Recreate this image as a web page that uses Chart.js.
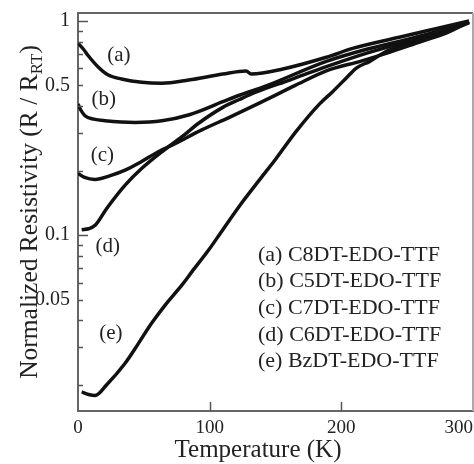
<!DOCTYPE html>
<html>
<head>
<meta charset="utf-8">
<script src="https://cdn.jsdelivr.net/npm/chart.js@4"></script>
<style>
html, body { margin: 0; padding: 0; background: #fff; }
#wrap { width: 474px; height: 464px; }
</style>
</head>
<body>
<div id="wrap"><canvas id="chart"></canvas></div>
<script>
// === Data (T in K, R / R_RT) ===
const tempA = [0, 4, 7.8, 15.5, 23, 33, 48.5, 63.7, 84, 110, 127.7, 131.5, 155.6, 188.6, 208.6, 244, 275, 297];
const resA  = [0.787, 0.74, 0.688, 0.608, 0.559, 0.536, 0.517, 0.512, 0.53, 0.565, 0.584, 0.566, 0.597, 0.677, 0.745, 0.84, 0.93, 1.0];

const tempB = [0, 2, 5.3, 12, 20.6, 43.4, 63.7, 84.5, 110, 122.6, 143, 188.6, 220, 250, 275, 297];
const resB  = [0.41, 0.385, 0.361, 0.348, 0.342, 0.336, 0.342, 0.365, 0.42, 0.45, 0.498, 0.648, 0.74, 0.82, 0.9, 0.99];

const tempC = [0, 5, 13, 24, 35.8, 48, 61, 74, 94, 115, 140, 165, 188.6, 215, 237, 260, 280, 297];
const resC  = [0.194, 0.186, 0.182, 0.189, 0.201, 0.22, 0.245, 0.268, 0.31, 0.355, 0.42, 0.5, 0.585, 0.65, 0.716, 0.8, 0.88, 0.99];

const tempD = [2.8, 8, 13, 21.8, 35.8, 48.5, 63.7, 79, 91.6, 110, 122.6, 135, 160.7, 188.6, 220, 250, 275, 297];
const resD  = [0.106, 0.107, 0.111, 0.133, 0.171, 0.205, 0.245, 0.288, 0.333, 0.395, 0.43, 0.465, 0.53, 0.612, 0.71, 0.8, 0.89, 0.99];

const tempE = [2.8, 8, 13, 21.8, 35.8, 43.4, 56, 66.2, 79, 86.6, 99.2, 110, 125, 137.8, 150.5, 165.7, 183.5, 193.6, 203.8, 211.4, 221.6, 234.3, 247, 267, 285, 297];
const resE  = [0.0185, 0.018, 0.0178, 0.02, 0.0252, 0.0295, 0.0388, 0.0471, 0.0585, 0.0675, 0.0851, 0.106, 0.143, 0.181, 0.228, 0.305, 0.41, 0.469, 0.542, 0.603, 0.648, 0.722, 0.775, 0.848, 0.92, 0.98];

const curveTags = ["(a)", "(b)", "(c)", "(d)", "(e)"];
const tagTemps  = [31, 19.5, 18.5, 22.5, 25];
const tagRes    = [0.688, 0.432, 0.2366, 0.0885, 0.0347];

const legendLines = [
    "(a) C8DT-EDO-TTF",
    "(b) C5DT-EDO-TTF",
    "(c) C7DT-EDO-TTF",
    "(d) C6DT-EDO-TTF",
    "(e) BzDT-EDO-TTF"
];

const xTicks = [0, 100, 200, 300];
const yTicks = [0.02, 0.03, 0.04, 0.05, 0.06, 0.07, 0.08, 0.09,
                0.1, 0.2, 0.3, 0.4, 0.5, 0.6, 0.7, 0.8, 0.9, 1];
const yLabeled = [1, 0.5, 0.1, 0.05];
const yDecades = [1, 0.1];
const xTitle = "Temperature (K)";
const yTitleParts = ["Normalized Resistivity (R / R", "RT", ")"];

// === Styling ===
const serif = "'Liberation Serif', 'Times New Roman', serif";
const ink = "#111";
const axisColor = "#666";

Chart.defaults.font.family = serif;
Chart.defaults.color = "#222";

function toPoints(ts, rs) {
    return ts.map((t, i) => ({ x: t, y: rs[i] }));
}

function curve(label, ts, rs) {
    return {
        label: label,
        data: toPoints(ts, rs),
        borderColor: ink,
        backgroundColor: ink,
        borderWidth: 3.5,
        pointRadius: 0,
        cubicInterpolationMode: "monotone",
        fill: false
    };
}

const decorations = {
    id: "decorations",
    afterDraw(chart) {
        const { ctx, chartArea: a, scales: { x, y } } = chart;
        ctx.save();

        // top and right frame
        ctx.strokeStyle = axisColor;
        ctx.lineWidth = 2;
        ctx.beginPath();
        ctx.moveTo(a.left, a.top);
        ctx.lineTo(a.right, a.top);
        ctx.stroke();
        ctx.strokeStyle = "#aaa";
        ctx.beginPath();
        ctx.moveTo(a.right, a.top);
        ctx.lineTo(a.right, a.bottom);
        ctx.stroke();

        // inward tick marks
        ctx.strokeStyle = "#555";
        ctx.lineWidth = 1.5;
        ctx.beginPath();
        y.ticks.forEach(t => {
            const py = Math.round(y.getPixelForValue(t.value)) + 0.5;
            const len = yDecades.includes(t.value) ? 10 : 5;
            ctx.moveTo(a.left, py);
            ctx.lineTo(a.left + len, py);
        });
        x.ticks.forEach(t => {
            if (t.value <= x.min || t.value >= x.max) return;
            const px = Math.round(x.getPixelForValue(t.value)) + 0.5;
            ctx.moveTo(px, a.bottom);
            ctx.lineTo(px, a.bottom - 9);
        });
        ctx.stroke();

        // curve tags
        ctx.fillStyle = "#222";
        ctx.font = "21px " + serif;
        ctx.textAlign = "center";
        ctx.textBaseline = "middle";
        curveTags.forEach((t, i) => {
            ctx.fillText(t, x.getPixelForValue(tagTemps[i]), y.getPixelForValue(tagRes[i]));
        });

        // legend block
        ctx.font = "22px " + serif;
        ctx.textAlign = "left";
        legendLines.forEach((t, i) => {
            ctx.fillText(t, a.left + 180, a.top + 242 + i * 26.67);
        });

        // x title
        ctx.font = "25px " + serif;
        ctx.textAlign = "center";
        ctx.fillText(xTitle, a.left + 180, a.bottom + 39);

        // y title with subscript
        ctx.translate(36.5, (a.top + a.bottom) / 2);
        ctx.rotate(-Math.PI / 2);
        ctx.textAlign = "left";
        ctx.textBaseline = "alphabetic";
        const big = "25.5px " + serif;
        const small = "17px " + serif;
        const fonts = [big, small, big];
        const drops = [0, 5, 0];
        let total = 0;
        const widths = yTitleParts.map((p, i) => {
            ctx.font = fonts[i];
            const w = ctx.measureText(p).width;
            total += w;
            return w;
        });
        let cx = -total / 2;
        yTitleParts.forEach((p, i) => {
            ctx.font = fonts[i];
            ctx.fillText(p, cx, drops[i]);
            cx += widths[i];
        });
        ctx.restore();
    }
};

const ctx = document.getElementById("chart");
new Chart(ctx, {
    type: "line",
    data: {
        datasets: [
            curve("a", tempA, resA),
            curve("b", tempB, resB),
            curve("c", tempC, resC),
            curve("d", tempD, resD),
            curve("e", tempE, resE)
        ]
    },
    options: {
        responsive: true,
        maintainAspectRatio: false,
        animation: false,
        layout: { padding: { top: 13, right: 1, left: 0, bottom: 0 } },
        plugins: {
            legend: { display: false },
            tooltip: { enabled: false }
        },
        scales: {
            x: {
                type: "linear",
                min: 0,
                max: 300,
                afterBuildTicks: s => { s.ticks = xTicks.map(v => ({ value: v })); },
                afterFit: s => { s.height = 53; s.paddingLeft = 0; s.paddingRight = 0; },
                ticks: {
                    font: { size: 19 },
                    padding: 6,
                    maxRotation: 0,
                    autoSkip: false,
                    callback: v => v === 300 ? "300\u00a0\u00a0\u00a0\u00a0\u00a0\u00a0" : String(v)
                },
                grid: { drawOnChartArea: false, drawTicks: false },
                border: { color: axisColor, width: 2 }
            },
            y: {
                type: "logarithmic",
                min: 0.01507,
                max: 1.09,
                afterBuildTicks: s => { s.ticks = yTicks.map(v => ({ value: v })); },
                afterFit: s => { s.width = 78; s.paddingTop = 0; s.paddingBottom = 0; },
                ticks: {
                    font: { size: 20 },
                    padding: 8,
                    autoSkip: false,
                    callback: v => yLabeled.includes(v) ? String(v) : ""
                },
                grid: { drawOnChartArea: false, drawTicks: false },
                border: { color: axisColor, width: 2 }
            }
        }
    },
    plugins: [decorations]
});
</script>
</body>
</html>
